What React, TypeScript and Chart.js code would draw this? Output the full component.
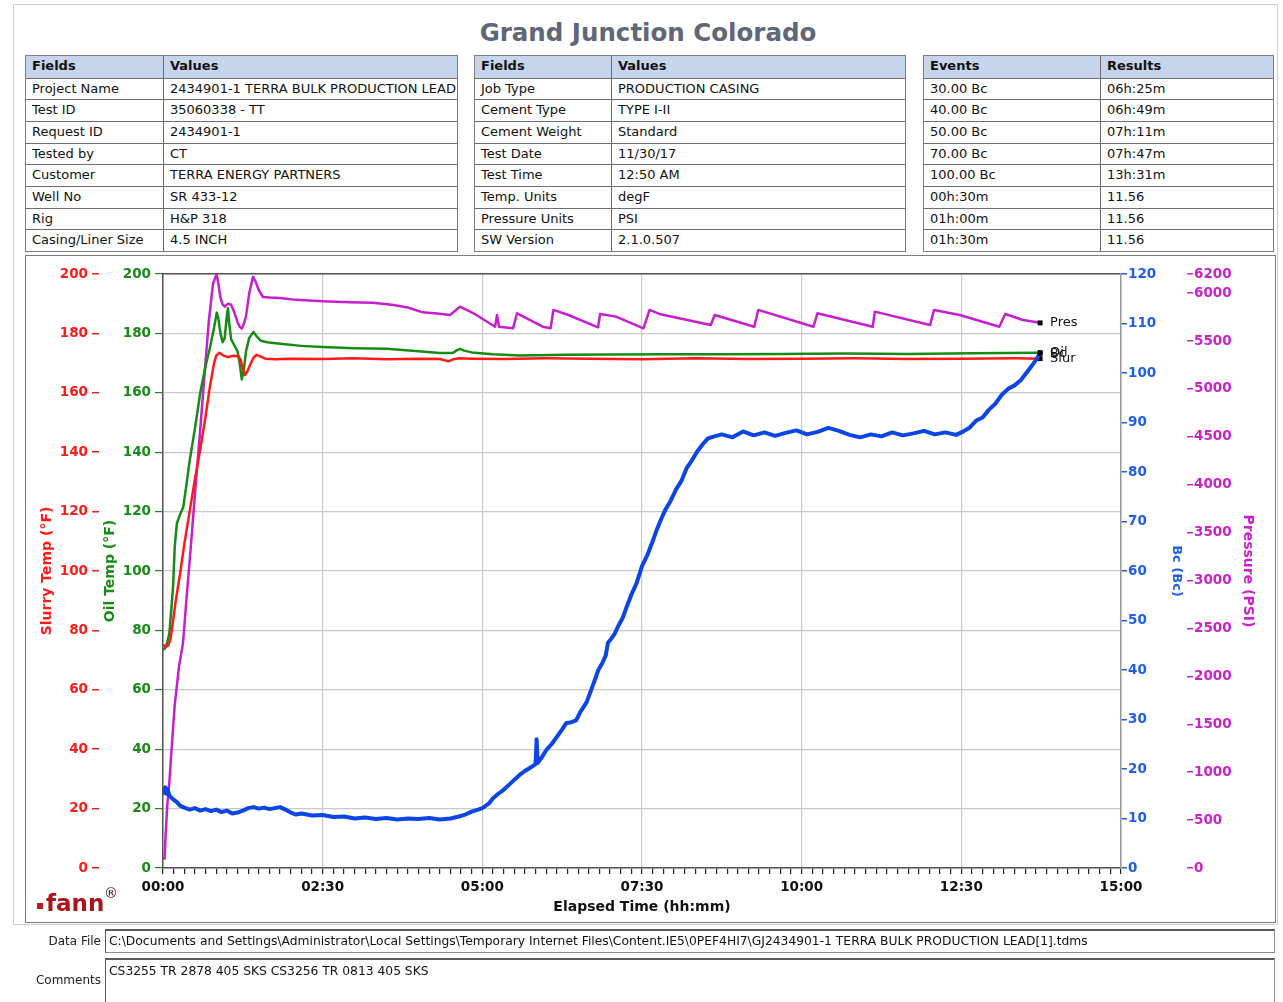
import React, { useEffect, useRef } from "react";
import { Chart, registerables } from "chart.js";

Chart.register(...registerables);

const FONT = '"DejaVu Sans", Verdana, sans-serif';

// ---------- report text ----------
const reportTitle = "Grand Junction Colorado";
const tableHeadLeft = ["Fields", "Values"];
const projectFields = ["Project Name", "Test ID", "Request ID", "Tested by", "Customer", "Well No", "Rig", "Casing/Liner Size"];
const projectValues = ["2434901-1 TERRA BULK PRODUCTION LEAD", "35060338 - TT", "2434901-1", "CT", "TERRA ENERGY PARTNERS", "SR 433-12", "H&P 318", "4.5 INCH"];
const tableHeadMid = ["Fields", "Values"];
const jobFields = ["Job Type", "Cement Type", "Cement Weight", "Test Date", "Test Time", "Temp. Units", "Pressure Units", "SW Version"];
const jobValues = ["PRODUCTION CASING", "TYPE I-II", "Standard", "11/30/17", "12:50 AM", "degF", "PSI", "2.1.0.507"];
const tableHeadRight = ["Events", "Results"];
const eventNames = ["30.00 Bc", "40.00 Bc", "50.00 Bc", "70.00 Bc", "100.00 Bc", "00h:30m", "01h:00m", "01h:30m"];
const eventResults = ["06h:25m", "06h:49m", "07h:11m", "07h:47m", "13h:31m", "11.56", "11.56", "11.56"];
const dataFile = "C:\\Documents and Settings\\Administrator\\Local Settings\\Temporary Internet Files\\Content.IE5\\0PEF4HI7\\GJ2434901-1 TERRA BULK PRODUCTION LEAD[1].tdms";
const comments = "CS3255 TR 2878 405 SKS CS3256 TR 0813 405 SKS";

// ---------- series (time in minutes) ----------
const slurryTime = [0, 3, 5, 7, 9, 12, 16, 20, 25, 30, 35, 40, 44, 48, 50, 53, 57, 61, 66, 71, 73, 75, 77, 79, 82, 85, 88, 92, 96, 105, 120, 150, 180, 210, 240, 260, 268, 272, 278, 290, 320, 360, 400, 450, 500, 550, 600, 650, 700, 750, 800, 824];
const slurryTemp = [75, 74.5, 75, 77, 82, 90, 99, 109, 120, 131, 141, 152, 162, 170, 172.5, 173.5, 172.5, 172, 172.5, 172.3, 171, 168, 166, 167, 169.5, 171.8, 172.8, 172.2, 171.5, 171.3, 171.5, 171.4, 171.6, 171.3, 171.5, 171.4, 170.6, 171.2, 171.6, 171.5, 171.4, 171.6, 171.5, 171.3, 171.6, 171.4, 171.5, 171.6, 171.4, 171.5, 171.6, 171.5];

const oilTime = [0, 2, 4, 6, 8, 9.5, 11, 13, 16, 19, 22, 25, 30, 35, 40, 44, 48, 50.5, 52, 54, 56, 58, 60, 61, 62, 64, 67, 70, 72, 74, 76, 78, 81, 85, 88, 92, 98, 110, 130, 150, 180, 210, 240, 260, 272, 276, 279, 283, 290, 310, 335, 380, 420, 470, 520, 580, 640, 700, 760, 824];
const oilTemp = [73.5, 74, 76, 79, 88, 95, 108, 116, 119, 121.5, 129, 137, 148, 160, 169, 175, 182, 187, 185, 180, 177, 178.5, 186, 188.5, 184, 178, 176, 174, 170, 164.5, 168, 174, 178.5, 180.5, 179, 177.5, 177, 176.5, 175.8, 175.4, 175, 174.8, 174, 173.4, 173.4, 174.3, 174.8, 174.2, 173.6, 173, 172.6, 172.8, 172.9, 173, 173, 173.1, 173.2, 173.1, 173.3, 173.5];

const presTime = [0, 1.5, 2.5, 4, 6, 8, 11, 15, 18.8, 22, 25.4, 30, 34.8, 39, 43, 47, 50.4, 52, 54, 56, 58.2, 61, 64, 67, 70, 72, 74, 76, 78, 81, 84.6, 87, 90, 94, 100, 110, 125, 150, 175, 197, 215, 230, 244, 260, 269.6, 279, 291.8, 312, 313.8, 315.7, 328.8, 332.6, 356.7, 364.1, 366.8, 380.9, 408.7, 410.6, 425.5, 451.4, 457.1, 466.3, 514.6, 518.3, 555.4, 559.2, 611.1, 614.8, 666.8, 668.7, 720.6, 724.4, 748.5, 785.7, 791.2, 808, 821.1, 824];
const presPsi = [100, 100, 350, 650, 900, 1230, 1700, 2100, 2350, 2800, 3250, 3900, 4550, 5150, 5700, 6100, 6200, 6100, 5950, 5880, 5860, 5890, 5880, 5800, 5700, 5650, 5630, 5680, 5760, 6000, 6170, 6120, 6030, 5960, 5955, 5950, 5930, 5915, 5905, 5900, 5880, 5850, 5800, 5785, 5772, 5859, 5790, 5650, 5772, 5650, 5633, 5790, 5650, 5633, 5825, 5772, 5643, 5783, 5755, 5633, 5825, 5783, 5668, 5772, 5650, 5825, 5650, 5790, 5650, 5807, 5668, 5825, 5772, 5650, 5783, 5720, 5696, 5690];

const bcTime = [0, 1, 2, 3, 4, 5, 6, 8, 10, 13, 16, 20, 25, 30, 35, 40, 45, 50, 55, 60, 65, 70, 75, 80, 85, 90, 95, 100, 105, 110, 115, 120, 125, 130, 140, 150, 160, 170, 180, 190, 200, 210, 220, 230, 240, 250, 260, 270, 278, 284, 290, 296, 300, 306, 310, 315, 320, 325, 330, 335, 340, 346, 350, 351, 352, 356, 360, 365, 370, 375, 379, 383, 388, 392, 398, 404, 409, 413, 416, 418, 420, 424, 428, 432, 436, 440, 445, 450, 455, 460, 464, 468, 472, 477, 482, 487, 492, 497, 502, 507, 512, 518, 525, 535, 545, 555, 565, 575, 585, 595, 605, 615, 625, 635, 645, 655, 665, 675, 685, 695, 705, 715, 725, 735, 745, 752, 758, 764, 770, 776, 782, 788, 794, 800, 806, 811, 816, 820, 824];
const bcValue = [16, 15.2, 16.3, 15, 16, 15.4, 14.6, 14.2, 13.8, 13.3, 12.6, 12.2, 11.8, 12.1, 11.6, 11.9, 11.5, 11.8, 11.3, 11.6, 11.0, 11.2, 11.6, 12.1, 12.3, 12.0, 12.2, 11.9, 12.1, 12.3, 11.8, 11.2, 10.8, 11.0, 10.6, 10.7, 10.3, 10.4, 10.0, 10.2, 9.9, 10.1, 9.8, 10.0, 9.9, 10.1, 9.8, 10.0, 10.4, 10.8, 11.4, 11.8, 12.1, 13.0, 14.1, 15.0, 15.8, 16.8, 17.8, 18.8, 19.6, 20.4, 21.0, 26.0, 21.2, 22.4, 23.8, 25.0, 26.5, 28.0, 29.3, 29.4, 29.8, 31.5, 33.5, 37.0, 40.0, 41.5, 43.0, 45.5, 46.0, 47.2, 49.0, 50.6, 53.0, 55.2, 57.6, 61.0, 63.2, 66.0, 68.4, 70.5, 72.4, 74.2, 76.5, 78.2, 80.8, 82.4, 84.2, 85.6, 86.8, 87.2, 87.6, 87.0, 88.2, 87.4, 88.0, 87.3, 87.9, 88.4, 87.6, 88.1, 88.9, 88.3, 87.5, 87.0, 87.6, 87.2, 88.0, 87.4, 87.8, 88.3, 87.6, 88.0, 87.5, 88.2, 89.0, 90.4, 91.0, 92.6, 93.8, 95.6, 96.8, 97.5, 98.6, 100, 101.4, 102.6, 104];

// ---------- axis settings ----------
const timeMax = 900;
const timeTickStep = 10;
const timeLabelStep = 150;
const tempMax = 200;
const tempStep = 20;
const bcMax = 120;
const bcStep = 10;
const pressureMax = 6200;
const pressureTicks = [0, 500, 1000, 1500, 2000, 2500, 3000, 3500, 4000, 4500, 5000, 5500, 6000, 6200];

const RED = "#ff1a1a";
const GREEN = "#168c16";
const BLUE = "#0b45e6";
const MAGENTA = "#c51fcf";
const BLUE_TXT = "#1f5fe6";
const MAGENTA_TXT = "#cc22cc";

const zip = (xs: number[], ys: number[]) => xs.map((x, i) => ({ x, y: ys[i] }));

const fmtTime = (v: number) => {
  const m = Math.round(v);
  if (m % timeLabelStep !== 0) return "";
  const h = Math.floor(m / 60);
  const mm = m % 60;
  return `${String(h).padStart(2, "0")}:${String(mm).padStart(2, "0")}`;
};

const endLabels = {
  id: "endLabels",
  afterDatasetsDraw(chart: any) {
    const ctx = chart.ctx;
    chart.data.datasets.forEach((ds: any, i: number) => {
      const meta = chart.getDatasetMeta(i);
      const pt = meta.data[meta.data.length - 1];
      if (!pt) return;
      ctx.save();
      ctx.font = `13px ${FONT}`;
      ctx.fillStyle = "#111";
      ctx.textBaseline = "middle";
      ctx.textAlign = "left";
      ctx.fillText(ds.endLabel, pt.x + 10, pt.y);
      ctx.restore();
    });
  },
};

const lastPointRadius = (c: any) => (c.dataIndex === c.dataset.data.length - 1 ? 3.5 : 0);

function makeDataset(label: string, endLabel: string, xs: number[], ys: number[], axis: string, color: string, width: number) {
  return {
    label,
    endLabel,
    data: zip(xs, ys),
    yAxisID: axis,
    xAxisID: "x",
    borderColor: color,
    borderWidth: width,
    tension: 0,
    fill: false,
    borderJoinStyle: "round",
    borderCapStyle: "round",
    pointRadius: lastPointRadius,
    pointStyle: "rect",
    pointBackgroundColor: "#000",
    pointBorderColor: "#000",
    pointBorderWidth: 0,
  } as any;
}

function ChartPanel() {
  const ref = useRef<HTMLCanvasElement | null>(null);
  useEffect(() => {
    if (!ref.current) return;
    Chart.defaults.font.family = FONT;
    const tickFont = { family: FONT, size: 13.5, weight: "bold" as const };
    const chart = new Chart(ref.current, {
      type: "line",
      data: {
        datasets: [
          makeDataset("Bc", "Bc", bcTime, bcValue, "yBc", BLUE, 4),
          makeDataset("Slurry Temp", "Slur", slurryTime, slurryTemp, "ySlurry", RED, 2.5),
          makeDataset("Oil Temp", "Oil", oilTime, oilTemp, "yOil", GREEN, 2.5),
          makeDataset("Pressure", "Pres", presTime, presPsi, "yPres", MAGENTA, 2.5),
        ],
      },
      options: {
        animation: false,
        responsive: false,
        maintainAspectRatio: false,
        events: [],
        layout: { padding: { left: 9, right: 7, top: 18, bottom: 3 } },
        plugins: { legend: { display: false }, tooltip: { enabled: false } },
        scales: {
          x: {
            type: "linear",
            position: "bottom",
            min: 0,
            max: timeMax,
            afterFit: (s: any) => { s.height = 50; },
            ticks: {
              stepSize: timeTickStep,
              autoSkip: false,
              maxRotation: 0,
              minRotation: 0,
              color: "#111",
              font: tickFont,
              padding: 5,
              callback: (v: any) => fmtTime(Number(v)),
            },
            grid: {
              color: (c: any) => (c.tick && Math.round(c.tick.value) % timeLabelStep === 0 ? "#c8c8c8" : "rgba(0,0,0,0)"),
              tickColor: "#222",
              tickLength: 6,
              lineWidth: 1.2,
            },
            border: { display: true, color: "#555", width: 1.5 },
            title: {
              display: true,
              text: "Elapsed Time (hh:mm)",
              color: "#111",
              font: { family: FONT, size: 14, weight: "bold" },
              padding: { top: 0, bottom: 2 },
            },
          },
          x2: {
            type: "linear",
            position: "top",
            min: 0,
            max: timeMax,
            afterFit: (s: any) => { s.height = 0; },
            ticks: { display: false },
            grid: { display: false },
            border: { display: true, color: "#555", width: 1.5 },
          },
          ySlurry: {
            type: "linear",
            position: "left",
            weight: 1,
            min: 0,
            max: tempMax,
            afterFit: (s: any) => { s.width = 64; },
            ticks: { stepSize: tempStep, color: RED, font: tickFont, padding: 4, callback: (v: any) => String(v) },
            grid: { drawOnChartArea: false, tickColor: RED, tickLength: 7, lineWidth: 1.5 },
            border: { display: false },
            title: {
              display: true,
              text: "Slurry Temp (°F)",
              color: RED,
              font: { family: FONT, size: 14, weight: "bold" },
              padding: { top: 4, bottom: 0 },
            },
          },
          yOil: {
            type: "linear",
            position: "left",
            weight: 0,
            min: 0,
            max: tempMax,
            afterFit: (s: any) => { s.width = 64; },
            ticks: { stepSize: tempStep, color: GREEN, font: tickFont, padding: 4, callback: (v: any) => String(v) },
            grid: { drawOnChartArea: true, color: "#c8c8c8", tickColor: GREEN, tickLength: 8, lineWidth: 1.2 },
            border: { display: true, color: "#555", width: 1.5 },
            title: {
              display: true,
              text: "Oil Temp (°F)",
              color: GREEN,
              font: { family: FONT, size: 14, weight: "bold" },
              padding: { top: 3, bottom: 0 },
            },
          },
          yBc: {
            type: "linear",
            position: "right",
            weight: 0,
            min: 0,
            max: bcMax,
            afterFit: (s: any) => { s.width = 66; },
            ticks: { stepSize: bcStep, color: BLUE_TXT, font: tickFont, padding: 1, callback: (v: any) => String(v) },
            grid: { drawOnChartArea: false, tickColor: BLUE_TXT, tickLength: 6, lineWidth: 1.5 },
            border: { display: true, color: "#9a9a9a", width: 1.5 },
            title: {
              display: true,
              text: "Bc (Bc)",
              color: BLUE_TXT,
              font: { family: FONT, size: 13, weight: "bold" },
              padding: { top: 3, bottom: 0 },
            },
          },
          yPres: {
            type: "linear",
            position: "right",
            weight: 1,
            min: 0,
            max: pressureMax,
            afterFit: (s: any) => { s.width = 80; },
            afterBuildTicks: (s: any) => { s.ticks = pressureTicks.map((v) => ({ value: v })); },
            ticks: { color: MAGENTA_TXT, font: tickFont, padding: 1, callback: (v: any) => String(v) },
            grid: { drawOnChartArea: false, tickColor: MAGENTA_TXT, tickLength: 6, lineWidth: 1.5 },
            border: { display: false },
            title: {
              display: true,
              text: "Pressure (PSI)",
              color: MAGENTA_TXT,
              font: { family: FONT, size: 14, weight: "bold" },
              padding: { top: 11, bottom: 0 },
            },
          },
        } as any,
      },
      plugins: [endLabels],
    } as any);
    return () => chart.destroy();
  }, []);
  return (
    <canvas
      ref={ref}
      width={1248}
      height={665}
      style={{ position: "absolute", left: 26, top: 256, width: 1248, height: 665 }}
    />
  );
}

function InfoTable(props: { left: number; width: number; col1: number; head: string[]; names: string[]; values: string[] }) {
  const { left, width, col1, head, names, values } = props;
  const rows = [head, ...names.map((n, i) => [n, values[i]])];
  const rowH = 195 / 9;
  return (
    <div
      style={{
        position: "absolute",
        left,
        top: 55,
        width,
        height: 197,
        boxSizing: "border-box",
        border: "1px solid #7d7d7d",
        background: "#fff",
        fontFamily: FONT,
        fontSize: 13,
        color: "#111",
      }}
    >
      {rows.map((row, r) => (
        <div
          key={r}
          style={{
            display: "flex",
            height: rowH,
            boxSizing: "border-box",
            borderTop: r === 0 ? "none" : "1px solid #6f6f6f",
            background: r === 0 ? "#c6d5eb" : "#fff",
            fontWeight: r === 0 ? "bold" : "normal",
          }}
        >
          <div
            style={{
              width: col1,
              flex: "none",
              boxSizing: "border-box",
              paddingLeft: 6,
              borderRight: "1px solid #6f6f6f",
              lineHeight: `${rowH - 1}px`,
              whiteSpace: "nowrap",
              overflow: "hidden",
            }}
          >
            {row[0]}
          </div>
          <div
            style={{
              flex: 1,
              minWidth: 0,
              paddingLeft: 6,
              lineHeight: `${rowH - 1}px`,
              whiteSpace: "nowrap",
              overflow: "hidden",
            }}
          >
            {row[1]}
          </div>
        </div>
      ))}
    </div>
  );
}

export default function App() {
  return (
    <div style={{ position: "fixed", left: 0, top: 0, width: 1283, height: 1002, background: "#fff", overflow: "hidden", fontFamily: FONT }}>
      <div style={{ position: "absolute", left: 13, top: 4, width: 1265, height: 921, border: "1px solid #d0d0d0", boxSizing: "border-box" }} />
      <div
        style={{
          position: "absolute",
          left: 0,
          top: 18,
          width: 1296,
          textAlign: "center",
          fontSize: 24.5,
          fontWeight: "bold",
          lineHeight: "30px",
          color: "#5f6678",
        }}
      >
        {reportTitle}
      </div>
      <InfoTable left={25} width={433} col1={138} head={tableHeadLeft} names={projectFields} values={projectValues} />
      <InfoTable left={474} width={432} col1={137} head={tableHeadMid} names={jobFields} values={jobValues} />
      <InfoTable left={923} width={351} col1={177} head={tableHeadRight} names={eventNames} values={eventResults} />

      <div style={{ position: "absolute", left: 25, top: 255, width: 1251, height: 668, border: "1px solid #7a7a7a", boxSizing: "border-box", background: "#fff" }} />
      <ChartPanel />

      <div style={{ position: "absolute", left: 37, top: 903, width: 6, height: 6, background: "#c8161d" }} />
      <div style={{ position: "absolute", left: 46, top: 888.6, fontSize: 23, fontWeight: "bold", lineHeight: "28px", color: "#ab141b" }}>fann</div>
      <div style={{ position: "absolute", left: 104, top: 884, fontSize: 14, lineHeight: "18px", color: "#4a1010" }}>®</div>

      <div style={{ position: "absolute", left: 20, top: 931, width: 81, fontSize: 12, lineHeight: "20px", textAlign: "right", color: "#222" }}>Data File</div>
      <div
        style={{
          position: "absolute",
          left: 105,
          top: 929,
          width: 1170,
          height: 24,
          boxSizing: "border-box",
          border: "1px solid #8c8c8c",
          borderTop: "2px solid #5a5a5a",
          borderLeft: "1px solid #5a5a5a",
          fontSize: 12.3,
          lineHeight: "20px",
          paddingLeft: 3,
          whiteSpace: "nowrap",
          overflow: "hidden",
          color: "#111",
        }}
      >
        {dataFile}
      </div>
      <div style={{ position: "absolute", left: 20, top: 970, width: 81, fontSize: 12, lineHeight: "20px", textAlign: "right", color: "#222" }}>Comments</div>
      <div
        style={{
          position: "absolute",
          left: 105,
          top: 958,
          width: 1170,
          height: 50,
          boxSizing: "border-box",
          border: "1px solid #8c8c8c",
          borderTop: "2px solid #5a5a5a",
          borderLeft: "1px solid #5a5a5a",
          fontSize: 12.3,
          lineHeight: "18px",
          paddingLeft: 3,
          paddingTop: 2,
          whiteSpace: "nowrap",
          color: "#111",
        }}
      >
        {comments}
      </div>
    </div>
  );
}
